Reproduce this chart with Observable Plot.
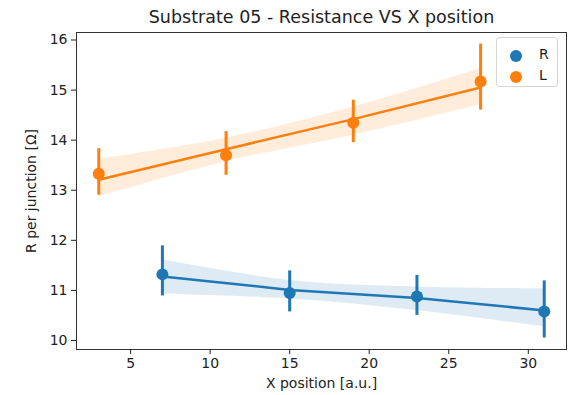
<!DOCTYPE html>
<html>
<head>
<meta charset="utf-8">
<script src="https://cdn.jsdelivr.net/npm/d3@7"></script>
<script src="https://cdn.jsdelivr.net/npm/@observablehq/plot@0.6"></script>
<style>
  html, body { margin: 0; padding: 0; background: #fff; }
  #wrap { position: relative; width: 569px; height: 395px; font-family: "DejaVu Sans", sans-serif; }
  #legend { position: absolute; left: 496px; top: 37px; width: 62px; height: 50px; box-sizing: border-box;
            border: 1px solid #d6d6d6; border-radius: 3px; background: rgba(255,255,255,0.8); font-size: 14px; color: #222; }
  .li { position: absolute; left: 0; width: 100%; height: 20px; }
  .li .m { position: absolute; left: 13px; top: 4px; width: 12px; height: 12px; border-radius: 50%; }
  .li .t { position: absolute; left: 42px; top: 0px; }
</style>
</head>
<body>
<div id="wrap">
  <div id="chart"></div>
  <div id="legend"></div>
</div>
<script>
// ---- data ----
const titleText = "Substrate 05 - Resistance VS X position";
const xLabel = "X position [a.u.]";
const yLabel = "R per junction [Ω]";
const seriesNames = ["R", "L"];
const seriesColors = ["#1f77b4", "#ff7f0e"];

const xR = [7, 15, 23, 31];
const meanR = [11.32, 10.95, 10.88, 10.58];
const errLoR = [10.89, 10.57, 10.50, 10.05];
const errHiR = [11.89, 11.39, 11.30, 11.19];
const fitR = [11.28, 11.01, 10.85, 10.60];
const ciLoR = [10.93, 10.83, 10.60, 10.27];
const ciHiR = [11.61, 11.20, 11.07, 11.03];

const xL = [3, 11, 19, 27];
const meanL = [13.33, 13.70, 14.35, 15.17];
const errLoL = [12.90, 13.30, 13.95, 14.60];
const errHiL = [13.83, 14.17, 14.80, 15.92];
const fitL = [13.21, 13.82, 14.42, 15.05];
const ciLoL = [12.87, 13.57, 14.10, 14.70];
const ciHiL = [13.62, 14.04, 14.66, 15.43];

const xTicks = [5, 10, 15, 20, 25, 30];
const yTicks = [10, 11, 12, 13, 14, 15, 16];

// ---- build tables ----
function rows(name, xs, mean, lo, hi, fit, cLo, cHi) {
  return xs.map((x, i) => ({series: name, x, mean: mean[i], lo: lo[i], hi: hi[i], fit: fit[i], cLo: cLo[i], cHi: cHi[i]}));
}
const dR = rows("R", xR, meanR, errLoR, errHiR, fitR, ciLoR, ciHiR);
const dL = rows("L", xL, meanL, errLoL, errHiL, fitL, ciLoL, ciHiL);

function layer(d, color) {
  return [
    Plot.ruleX(d, {x: "x", y1: "lo", y2: "hi", stroke: color, strokeWidth: 3}),
    Plot.dot(d, {x: "x", y: "mean", r: 6, fill: color, stroke: "none"}),
    Plot.areaY(d, {x: "x", y1: "cLo", y2: "cHi", fill: color, fillOpacity: 0.15, curve: "catmull-rom"}),
    Plot.line(d, {x: "x", y: "fit", stroke: color, strokeWidth: 2.5})
  ];
}

const chart = Plot.plot({
  width: 569,
  height: 395,
  marginLeft: 76,
  marginRight: 3,
  marginTop: 32,
  marginBottom: 46,
  style: {fontFamily: "DejaVu Sans", fontSize: "14px", color: "#222", background: "#fff"},
  x: {domain: [1.6, 32.4]},
  y: {domain: [9.82, 16.15]},
  marks: [
    ...layer(dR, seriesColors[0]),
    ...layer(dL, seriesColors[1]),
    Plot.frame({stroke: "#333", strokeWidth: 1}),
    Plot.axisX({ticks: xTicks, tickFormat: "d", tickSize: 5, tickPadding: 4, label: xLabel, labelAnchor: "center", labelArrow: "none", labelOffset: 38}),
    Plot.axisY({ticks: yTicks, tickFormat: "d", tickSize: 5, tickPadding: 4, label: yLabel, labelAnchor: "center", labelArrow: "none", labelOffset: 50}),
    Plot.text([titleText], {text: d => d, frameAnchor: "top", lineAnchor: "middle", dy: -15, fontSize: 17.5})
  ]
});
document.getElementById("chart").appendChild(chart);

// legend
const leg = document.getElementById("legend");
seriesNames.forEach((n, i) => {
  const el = document.createElement("div");
  el.className = "li";
  el.style.top = (8 + i * 21) + "px";
  el.innerHTML = `<span class="m" style="background:${seriesColors[i]}"></span><span class="t">${n}</span>`;
  leg.appendChild(el);
});
</script>
</body>
</html>
